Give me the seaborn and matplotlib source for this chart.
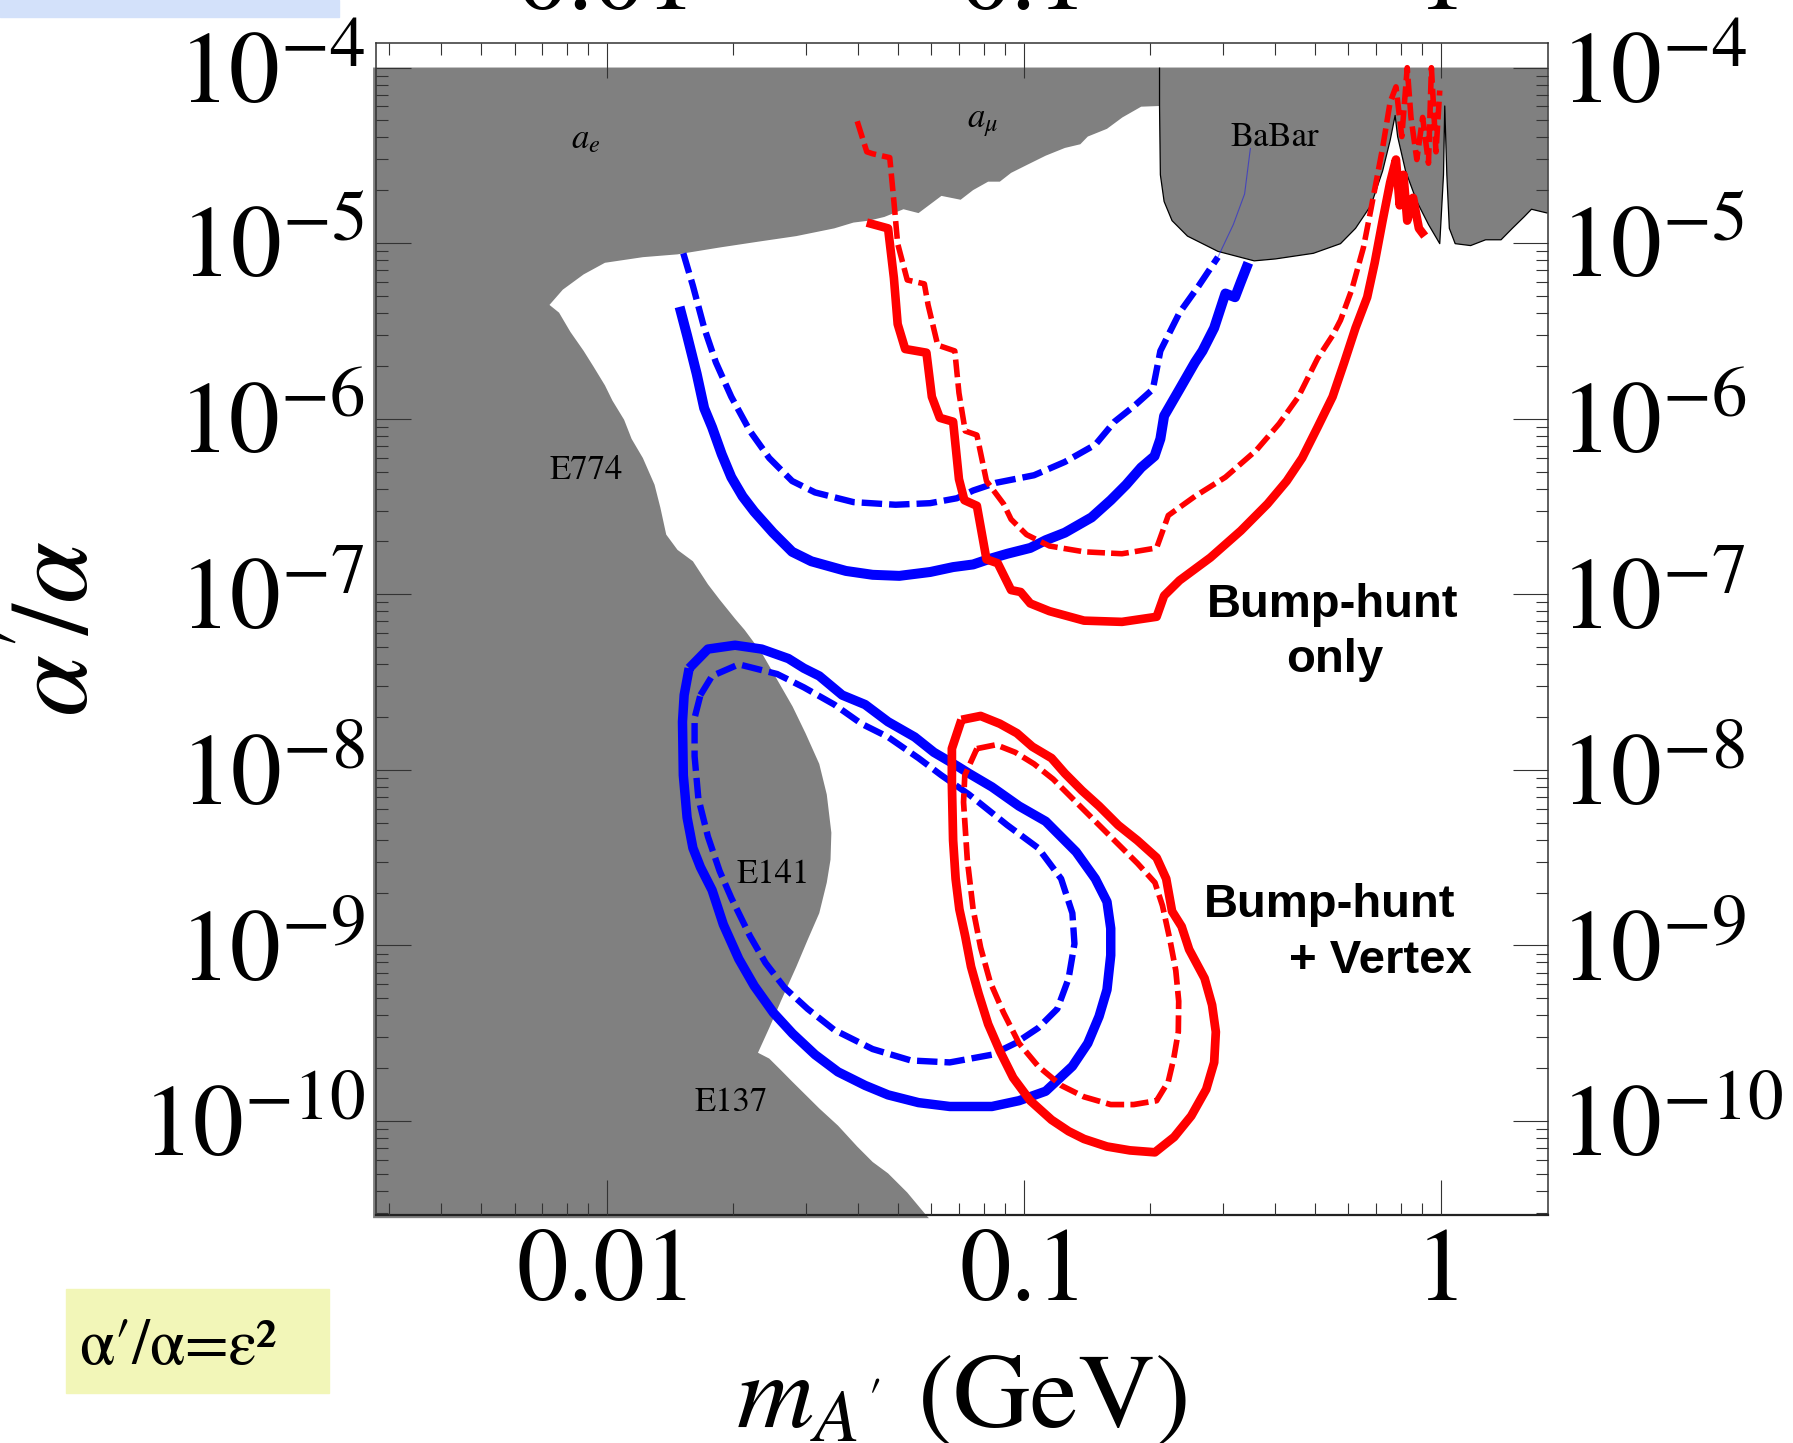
import numpy as np
import pandas as pd
import matplotlib
matplotlib.use("Agg")
import matplotlib.pyplot as plt
from matplotlib.patches import Rectangle
from matplotlib.ticker import LogLocator, FixedLocator, FixedFormatter, NullFormatter
import seaborn as sns

# ---------------------------------------------------------------------------
# Data (log10 of A' mass in GeV, log10 of alpha'/alpha)
# ---------------------------------------------------------------------------
# upper edge of the allowed region from a_e and a_mu (left to right)
g2_logm = [-2.138, -2.106, -2.056, -2.005, -1.914, -1.831, -1.730, -1.638, -1.546,
           -1.455, -1.409, -1.372, -1.335, -1.289, -1.253, -1.198, -1.152, -1.122,
           -1.086, -1.058, -1.031, -0.994, -0.948, -0.902, -0.865, -0.847, -0.801,
           -0.764, -0.719, -0.675]
g2_logy = [-5.352, -5.265, -5.178, -5.112, -5.080, -5.064, -5.025, -4.992, -4.960,
           -4.916, -4.883, -4.872, -4.851, -4.807, -4.829, -4.731, -4.753, -4.698,
           -4.650, -4.650, -4.600, -4.556, -4.502, -4.458, -4.437, -4.393, -4.349,
           -4.284, -4.223, -4.219]

# BaBar limit (left to right)
babar_logm = [-0.675, -0.675, -0.673, -0.664, -0.645, -0.608, -0.535, -0.448, -0.397,
              -0.306, -0.241, -0.205, -0.168, -0.140, -0.122, -0.110, -0.104, -0.085,
              -0.058, -0.030, -0.003, 0.006, 0.009, 0.014, 0.020, 0.034, 0.071, 0.107,
              0.144, 0.171, 0.199, 0.217, 0.236, 0.2554]
babar_logy = [-4.000, -4.219, -4.611, -4.763, -4.872, -4.960, -5.047, -5.101, -5.090,
              -5.058, -5.003, -4.916, -4.785, -4.589, -4.415, -4.273, -4.393, -4.589,
              -4.763, -4.894, -5.003, -4.611, -4.219, -4.611, -4.916, -5.003, -5.014,
              -4.981, -4.981, -4.916, -4.851, -4.807, -4.818, -4.829]

# beam-dump limits E774 / E141 / E137 (top to bottom)
dump_logm = [-2.138, -2.115, -2.088, -2.056, -2.033, -2.005, -1.987, -1.959, -1.941,
             -1.914, -1.886, -1.872, -1.858, -1.831, -1.794, -1.758, -1.730, -1.693,
             -1.670, -1.629, -1.592, -1.555, -1.524, -1.491, -1.473, -1.462, -1.464,
             -1.473, -1.491, -1.519, -1.546, -1.583, -1.611, -1.638, -1.611, -1.583,
             -1.556, -1.519, -1.491, -1.446, -1.400, -1.363, -1.326, -1.280, -1.234,
             -1.228]
dump_logy = [-5.352, -5.396, -5.505, -5.614, -5.701, -5.810, -5.897, -6.006, -6.115,
             -6.224, -6.376, -6.507, -6.660, -6.747, -6.812, -6.943, -7.030, -7.139,
             -7.203, -7.334, -7.486, -7.639, -7.791, -7.966, -8.140, -8.358, -8.511,
             -8.642, -8.816, -8.969, -9.121, -9.317, -9.470, -9.611, -9.644, -9.710,
             -9.775, -9.862, -9.928, -10.026, -10.145, -10.233, -10.298, -10.407, -10.538,
             -10.553]

# bump-hunt reach, blue
bump_blue_logm = [-1.826, -1.808, -1.785, -1.767, -1.748, -1.725, -1.702, -1.675, -1.647,
                  -1.602, -1.556, -1.510, -1.427, -1.363, -1.299, -1.225, -1.170, -1.122,
                  -1.086, -1.040, -0.985, -0.948, -0.902, -0.838, -0.792, -0.755, -0.719,
                  -0.687, -0.673, -0.664, -0.627, -0.590, -0.572, -0.544, -0.517, -0.494,
                  -0.480, -0.462]
bump_blue_logy = [-5.363, -5.526, -5.744, -5.940, -6.049, -6.202, -6.333, -6.442, -6.529,
                  -6.649, -6.758, -6.812, -6.867, -6.889, -6.895, -6.873, -6.845, -6.830,
                  -6.801, -6.769, -6.736, -6.692, -6.649, -6.562, -6.464, -6.376, -6.278,
                  -6.213, -6.115, -5.984, -5.832, -5.679, -5.614, -5.483, -5.287, -5.308,
                  -5.221, -5.112]
bump_blue_d_logm = [-1.817, -1.794, -1.767, -1.739, -1.702, -1.657, -1.611, -1.556, -1.501,
                    -1.409, -1.308, -1.225, -1.161, -1.122, -1.067, -0.976, -0.902, -0.829,
                    -0.783, -0.737, -0.691, -0.673, -0.627, -0.581, -0.535]
bump_blue_d_logy = [-5.058, -5.243, -5.483, -5.679, -5.875, -6.071, -6.224, -6.355, -6.420,
                    -6.475, -6.490, -6.481, -6.453, -6.409, -6.365, -6.322, -6.246, -6.148,
                    -6.017, -5.930, -5.832, -5.614, -5.396, -5.243, -5.080]
bump_blue_faint_logm = [-0.535, -0.498, -0.471, -0.457]
bump_blue_faint_logy = [-5.080, -4.894, -4.720, -4.458]

# bump-hunt reach, red
bump_red_logm = [-1.377, -1.326, -1.312, -1.303, -1.285, -1.234, -1.221, -1.202, -1.170,
                 -1.156, -1.143, -1.113, -1.090, -1.063, -1.031, -1.008, -0.985, -0.939,
                 -0.856, -0.765, -0.682, -0.664, -0.627, -0.553, -0.480, -0.416, -0.370,
                 -0.333, -0.296, -0.260, -0.232, -0.205, -0.177, -0.159, -0.140, -0.122,
                 -0.108, -0.099, -0.090, -0.081, -0.067, -0.053, -0.039]
bump_red_logy = [-4.883, -4.916, -5.199, -5.461, -5.603, -5.624, -5.875, -5.995, -6.017,
                 -6.344, -6.464, -6.496, -6.801, -6.823, -6.976, -6.987, -7.052, -7.096,
                 -7.150, -7.157, -7.128, -7.008, -6.921, -6.791, -6.638, -6.485, -6.355,
                 -6.224, -6.049, -5.875, -5.679, -5.483, -5.308, -5.112, -4.872, -4.655,
                 -4.524, -4.785, -4.611, -4.872, -4.742, -4.916, -4.960]
bump_red_d_logm = [-1.400, -1.377, -1.363, -1.322, -1.312, -1.303, -1.280, -1.239, -1.230,
                   -1.207, -1.166, -1.156, -1.141, -1.113, -1.090, -1.049, -1.031, -0.994,
                   -0.939, -0.856, -0.765, -0.682, -0.654, -0.590, -0.517, -0.443, -0.388,
                   -0.342, -0.296, -0.260, -0.241, -0.214, -0.186, -0.168, -0.140, -0.122,
                   -0.108, -0.094, -0.081, -0.072, -0.058, -0.044, -0.030, -0.023, -0.012,
                   -0.003]
bump_red_d_logy = [-4.306, -4.480, -4.491, -4.513, -4.763, -5.003, -5.210, -5.232, -5.352,
                   -5.581, -5.614, -5.853, -6.070, -6.093, -6.355, -6.485, -6.573, -6.660,
                   -6.725, -6.758, -6.769, -6.736, -6.551, -6.442, -6.333, -6.180, -6.028,
                   -5.875, -5.657, -5.526, -5.439, -5.265, -5.025, -4.807, -4.458, -4.197,
                   -4.110, -4.393, -4.001, -4.284, -4.524, -4.284, -4.545, -4.001, -4.480,
                   -4.131]

# bump-hunt + vertex reach, blue (closed contours)
vtx_blue_logm = [-1.803, -1.758, -1.693, -1.629, -1.565, -1.528, -1.491, -1.436, -1.381,
                 -1.326, -1.262, -1.216, -1.161, -1.132, -1.077, -1.012, -0.948, -0.875,
                 -0.829, -0.801, -0.792, -0.792, -0.801, -0.820, -0.847, -0.884, -0.948,
                 -1.012, -1.077, -1.178, -1.253, -1.326, -1.381, -1.446, -1.501, -1.555,
                 -1.601, -1.647, -1.684, -1.721, -1.748, -1.776, -1.794, -1.808, -1.817,
                 -1.819, -1.815]
vtx_blue_logy = [-7.421, -7.312, -7.290, -7.312, -7.366, -7.421, -7.465, -7.574, -7.628,
                 -7.726, -7.813, -7.900, -7.977, -8.020, -8.097, -8.206, -8.293, -8.467,
                 -8.620, -8.751, -8.903, -9.056, -9.252, -9.404, -9.557, -9.688, -9.830,
                 -9.884, -9.917, -9.917, -9.895, -9.851, -9.797, -9.720, -9.622, -9.502,
                 -9.383, -9.230, -9.077, -8.881, -8.685, -8.554, -8.445, -8.271, -8.031,
                 -7.726, -7.574]
vtx_blue_d_logm = [-1.776, -1.748, -1.684, -1.592, -1.528, -1.455, -1.390, -1.326, -1.253,
                   -1.198, -1.132, -1.040, -0.966, -0.911, -0.884, -0.879, -0.893, -0.920,
                   -0.966, -1.021, -1.077, -1.178, -1.271, -1.363, -1.455, -1.519, -1.574,
                   -1.620, -1.657, -1.702, -1.730, -1.758, -1.781, -1.790, -1.790]
vtx_blue_d_logy = [-7.574, -7.465, -7.399, -7.454, -7.530, -7.628, -7.737, -7.813, -7.933,
                   -8.031, -8.140, -8.315, -8.445, -8.620, -8.816, -8.990, -9.187, -9.361,
                   -9.470, -9.557, -9.622, -9.666, -9.655, -9.590, -9.481, -9.361, -9.241,
                   -9.099, -8.947, -8.729, -8.576, -8.380, -8.162, -7.922, -7.704]

# bump-hunt + vertex reach, red (closed contours)
vtx_red_logm = [-1.150, -1.104, -1.058, -1.017, -0.980, -0.934, -0.902, -0.861, -0.820,
                -0.774, -0.728, -0.682, -0.659, -0.645, -0.622, -0.604, -0.567, -0.549,
                -0.540, -0.544, -0.563, -0.599, -0.640, -0.686, -0.746, -0.801, -0.856,
                -0.893, -0.934, -0.985, -1.026, -1.058, -1.086, -1.109, -1.127, -1.141,
                -1.155, -1.164, -1.170, -1.173, -1.173]
vtx_red_logy = [-7.715, -7.693, -7.737, -7.791, -7.868, -7.933, -8.020, -8.118, -8.206,
                -8.315, -8.402, -8.500, -8.620, -8.805, -8.892, -9.023, -9.187, -9.339,
                -9.492, -9.666, -9.819, -9.971, -10.091, -10.178, -10.167, -10.145, -10.102,
                -10.058, -9.993, -9.884, -9.753, -9.601, -9.448, -9.274, -9.121, -8.947,
                -8.794, -8.620, -8.402, -8.075, -7.879]
vtx_red_d_logm = [-1.113, -1.067, -1.021, -0.976, -0.930, -0.875, -0.829, -0.783, -0.728,
                  -0.686, -0.668, -0.650, -0.636, -0.629, -0.630, -0.641, -0.654, -0.682,
                  -0.737, -0.792, -0.856, -0.911, -0.966, -1.012, -1.049, -1.081, -1.104,
                  -1.122, -1.136, -1.145, -1.142]
vtx_red_d_logy = [-7.879, -7.857, -7.900, -7.966, -8.053, -8.184, -8.293, -8.402, -8.532,
                  -8.642, -8.773, -8.968, -9.143, -9.317, -9.492, -9.644, -9.775, -9.884,
                  -9.906, -9.906, -9.862, -9.797, -9.688, -9.557, -9.383, -9.209, -9.012,
                  -8.794, -8.511, -8.184, -8.031]

x_tick_values = [0.01, 0.1, 1]
x_tick_labels = ["0.01", "0.1", "1"]
y_tick_exponents = [-4, -5, -6, -7, -8, -9, -10]

region_labels = ["$a_e$", r"$a_\mu$", "BaBar", "E774", "E141", "E137"]
region_label_logm = [-2.051, -1.100, -0.399, -2.051, -1.601, -1.702]
region_label_logy = [-4.415, -4.317, -4.404, -6.300, -8.598, -9.895]

# ---------------------------------------------------------------------------
sns.set_theme(style="ticks")
plt.rcParams["font.family"] = ["STIXGeneral", "DejaVu Sans"]
plt.rcParams["mathtext.fontset"] = "stix"
plt.rcParams["lines.solid_capstyle"] = "butt"
plt.rcParams["lines.dash_capstyle"] = "butt"
for key in ("text.color", "axes.labelcolor", "xtick.labelcolor", "ytick.labelcolor"):
    plt.rcParams[key] = "black"

W, H = 1793, 1443
fig = plt.figure(figsize=(W / 100, H / 100), dpi=100)
ax_l, ax_r, ax_t, ax_b = 376, 1547.5, 43.3, 1215
ax = fig.add_axes([ax_l / W, 1 - ax_b / H, (ax_r - ax_l) / W, (ax_b - ax_t) / H])

XLIM = (10 ** -2.554, 10 ** 0.2554)
YLIM = (10 ** -10.535, 10 ** -3.862)
ax.set_xscale("log")
ax.set_yscale("log")
ax.set_axisbelow(False)


def p10(v):
    return np.power(10.0, np.asarray(v, dtype=float))


# excluded region: everything above/left of the allowed-region boundary
top_edge_m = list(g2_logm) + list(babar_logm[2:])
top_edge_y = list(g2_logy) + list(babar_logy[2:])
poly_m = ([-2.561, -2.561, 0.2554] + top_edge_m[::-1] + list(dump_logm[1:]))
poly_y = ([-10.553, -4.0, -4.0] + top_edge_y[::-1] + list(dump_logy[1:]))
ax.fill(p10(poly_m), p10(poly_y), color="#808080", lw=0, zorder=1, clip_on=False)

# BaBar outline
ax.plot(p10(babar_logm), p10(babar_logy), color="black", linewidth=0.9, zorder=2)


def curve(xs, ys, color, lw, dashed=False, closed=False, alpha=1.0, z=4):
    xs, ys = list(xs), list(ys)
    if closed:
        xs.append(xs[0])
        ys.append(ys[0])
    df = pd.DataFrame({"m": p10(xs), "r": p10(ys)})
    ls = (0, (3.2, 1.1)) if dashed else "-"
    sns.lineplot(data=df, x="m", y="r", sort=False, estimator=None, ax=ax,
                 color=color, linewidth=lw, linestyle=ls, alpha=alpha, zorder=z)


BLUE, RED = "#0000FF", "#FF0000"
curve(bump_blue_faint_logm, bump_blue_faint_logy, BLUE, 0.8, alpha=0.45)
curve(bump_blue_d_logm, bump_blue_d_logy, BLUE, 4.6, dashed=True)
curve(bump_blue_logm, bump_blue_logy, BLUE, 7.2)
curve(bump_red_d_logm, bump_red_d_logy, RED, 4.0, dashed=True)
curve(bump_red_logm, bump_red_logy, RED, 6.2)
curve(vtx_blue_d_logm, vtx_blue_d_logy, BLUE, 4.6, dashed=True, closed=True)
curve(vtx_blue_logm, vtx_blue_logy, BLUE, 6.8, closed=True)
curve(vtx_red_d_logm, vtx_red_d_logy, RED, 4.1, dashed=True, closed=True)
curve(vtx_red_logm, vtx_red_logy, RED, 6.3, closed=True)

ax.set_xlim(*XLIM)
ax.set_ylim(*YLIM)
ax.set_xlabel("")
ax.set_ylabel("")

# region names
for txt, lm, ly in zip(region_labels, region_label_logm, region_label_logy):
    ax.text(10 ** lm, 10 ** ly, txt, fontsize=25, ha="center", va="center",
            color="black", zorder=5)

bold_kw = dict(fontsize=34, fontweight="bold", family=["Liberation Sans", "DejaVu Sans"],
               va="baseline", color="black", zorder=6)
ax.text(10 ** -0.259, 10 ** -7.129, "Bump-hunt", ha="center", **bold_kw)
ax.text(10 ** -0.254, 10 ** -7.442, "only", ha="center", **bold_kw)
ax.text(10 ** -0.266, 10 ** -8.838, "Bump-hunt", ha="center", **bold_kw)
ax.text(10 ** -0.146, 10 ** -9.154, "+ Vertex", ha="center", **bold_kw)

# right-hand and top tick labels on twin axes
y_major = [10.0 ** e for e in y_tick_exponents]
y_labels = [r"$10^{%d}$" % e for e in y_tick_exponents]

ax2 = ax.twinx()
ax2.set_yscale("log")
ax2.set_ylim(*YLIM)
ax2.yaxis.set_major_locator(FixedLocator(y_major))
ax2.yaxis.set_major_formatter(FixedFormatter(y_labels))
ax2.yaxis.set_minor_formatter(NullFormatter())
ax2.tick_params(axis="y", which="both", length=0, labelsize=73, pad=9,
                labelcolor="black")
for s in ax2.spines.values():
    s.set_visible(False)

ax3 = ax.twiny()
ax3.set_xscale("log")
ax3.set_xlim(*XLIM)
ax3.xaxis.set_major_locator(FixedLocator(x_tick_values))
ax3.xaxis.set_major_formatter(FixedFormatter(x_tick_labels))
ax3.xaxis.set_minor_formatter(NullFormatter())
ax3.tick_params(axis="x", which="both", length=0, labelsize=74, pad=8,
                labelcolor="black")
for s in ax3.spines.values():
    s.set_visible(False)

# main axes frame and ticks (set after the twins, which reset tick sides)
TICK_C = "#333333"
for s in ax.spines.values():
    s.set_color(TICK_C)
    s.set_linewidth(1.1)
ax.spines["bottom"].set_color("#222222")
ax.spines["bottom"].set_linewidth(1.6)

ax.xaxis.set_major_locator(FixedLocator(x_tick_values))
ax.xaxis.set_major_formatter(FixedFormatter(x_tick_labels))
ax.xaxis.set_minor_locator(LogLocator(base=10, subs=np.arange(2, 10), numticks=20))
ax.xaxis.set_minor_formatter(NullFormatter())
ax.yaxis.set_major_locator(FixedLocator(y_major))
ax.yaxis.set_major_formatter(FixedFormatter(y_labels))
ax.yaxis.set_minor_locator(LogLocator(base=10, subs=np.arange(2, 10), numticks=20))
ax.yaxis.set_minor_formatter(NullFormatter())

ax.tick_params(which="both", direction="in", left=True, bottom=True, top=True,
               right=True, labeltop=False, labelright=False, color=TICK_C, width=0.8)
ax.tick_params(which="major", length=25)
ax.tick_params(which="minor", length=8.5)
ax.tick_params(axis="x", which="major", labelsize=74, pad=10, labelcolor="black")
ax.tick_params(axis="y", which="major", labelsize=73, pad=8, labelcolor="black")
ax.xaxis.set_zorder(8)
ax.yaxis.set_zorder(8)

# axis titles
fig.text(62 / W, 1 - 629 / H, r"$\alpha'\!/\alpha$", fontsize=80, rotation=90,
         ha="center", va="center")
fig.text(962 / W, 1 - 1427 / H, r"$m_{A'}$ (GeV)", fontsize=77, ha="center",
         va="baseline")

# decorations outside the axes
fig.patches.append(Rectangle((0, 1 - 16.7 / H), 339 / W, 16.7 / H,
                             transform=fig.transFigure, color="#D3E1FA", zorder=0))
fig.patches.append(Rectangle((66 / W, 1 - 1393 / H), (329 - 66) / W, (1393 - 1289) / H,
                             transform=fig.transFigure, color="#F2F6B8", zorder=0))
fig.text(79 / W, 1 - 1364 / H, "α′/α=ε²", fontsize=46, ha="left", va="baseline",
         family=["STIXGeneral", "DejaVu Sans"])

fig.savefig("out.png", dpi=100)
